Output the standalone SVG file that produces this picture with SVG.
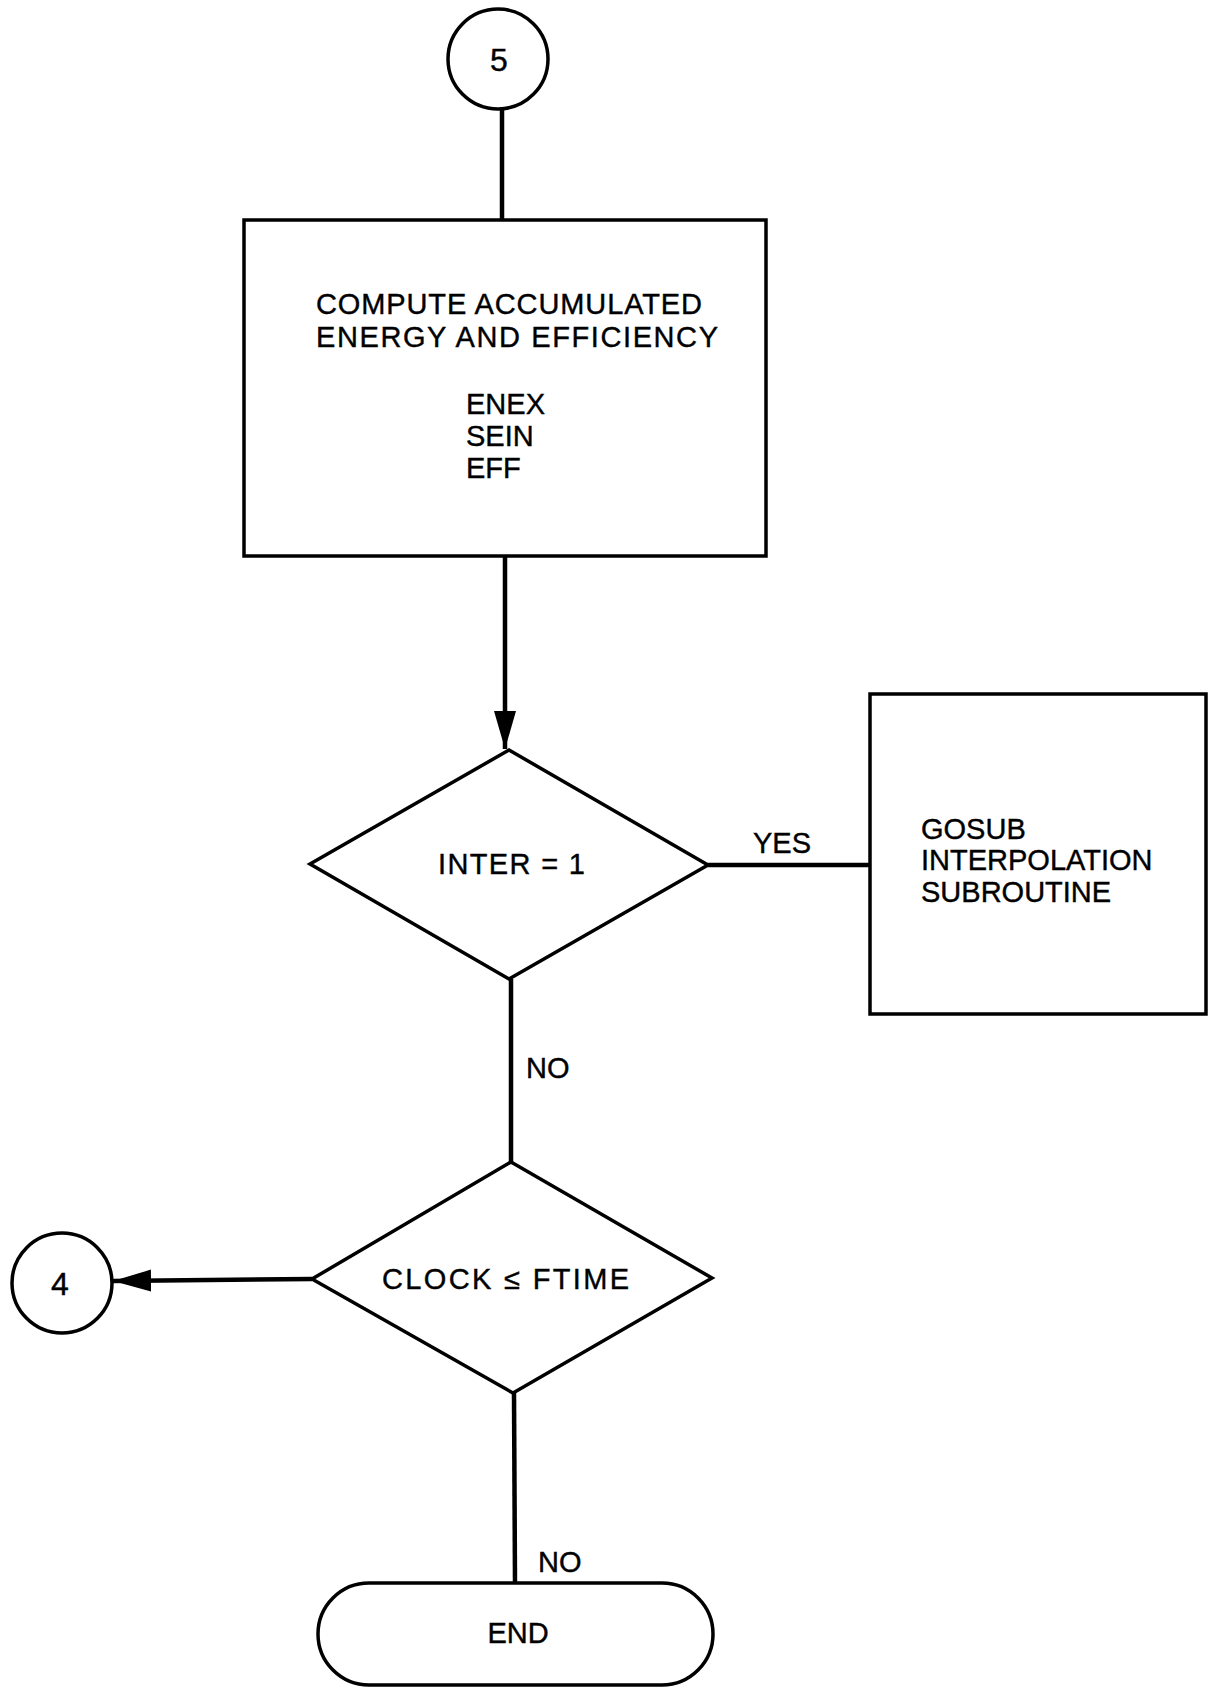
<svg xmlns="http://www.w3.org/2000/svg" width="1211" height="1692" viewBox="0 0 1211 1692">
<defs>
<style>
.shape{fill:none;stroke:#000;stroke-width:3.5}
.conn{fill:none;stroke:#000;stroke-width:4.5}
.t{font-family:"Liberation Sans",Arial,sans-serif;font-size:29px;fill:#000;stroke:#000;stroke-width:0.4}
.m{text-anchor:middle}
.d{font-size:32px}
</style>
<marker id="arr" markerUnits="userSpaceOnUse" markerWidth="44" markerHeight="26" refX="38" refY="11" orient="auto">
<path d="M0,0 L38,11 L0,22 Z" fill="#000"/>
</marker>
</defs>
<rect width="1211" height="1692" fill="#fff"/>
<g id="connectors">
<line class="conn" x1="502" y1="109" x2="502" y2="220"/>
<line class="conn" x1="505" y1="556" x2="505" y2="749" marker-end="url(#arr)"/>
<line class="conn" x1="708" y1="865" x2="870" y2="865"/>
<line class="conn" x1="511" y1="979" x2="511" y2="1162"/>
<line class="conn" x1="312" y1="1279" x2="113" y2="1281" marker-end="url(#arr)"/>
<line class="conn" x1="514" y1="1393" x2="515" y2="1583"/>
<text class="t" x="753" y="853">YES</text>
<text class="t" x="526" y="1078">NO</text>
<text class="t" x="538" y="1572">NO</text>
</g>
<g id="node-5">
<circle class="shape" cx="498" cy="59" r="50"/>
<text class="t m d" x="499" y="71">5</text>
</g>
<g id="node-compute">
<rect class="shape" x="244" y="220" width="522" height="336"/>
<text class="t" x="316" y="314" textLength="386" lengthAdjust="spacing">COMPUTE ACCUMULATED</text>
<text class="t" x="316" y="347" textLength="402" lengthAdjust="spacing">ENERGY AND EFFICIENCY</text>
<text class="t" x="466" y="414">ENEX</text>
<text class="t" x="466" y="446">SEIN</text>
<text class="t" x="466" y="478">EFF</text>
</g>
<g id="node-inter">
<polygon class="shape" points="509,750 708,865 509,979 310,864"/>
<text class="t" x="438" y="874" textLength="147" lengthAdjust="spacing">INTER = 1</text>
</g>
<g id="node-gosub">
<rect class="shape" x="870" y="694" width="336" height="320"/>
<text class="t" x="921" y="839">GOSUB</text>
<text class="t" x="921" y="870">INTERPOLATION</text>
<text class="t" x="921" y="902">SUBROUTINE</text>
</g>
<g id="node-clock">
<polygon class="shape" points="511,1162 712,1278 513,1393 312,1279"/>
<text class="t" x="382" y="1289" textLength="247" lengthAdjust="spacing">CLOCK ≤ FTIME</text>
</g>
<g id="node-4">
<circle class="shape" cx="62" cy="1283" r="50"/>
<text class="t m d" x="60" y="1295">4</text>
</g>
<g id="node-end">
<rect class="shape" x="318" y="1583" width="395" height="102" rx="51" ry="51"/>
<text class="t m" x="518" y="1643">END</text>
</g>
</svg>
